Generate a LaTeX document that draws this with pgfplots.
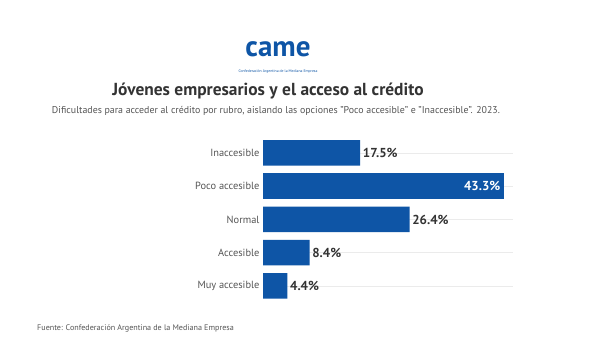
\documentclass[border=0pt]{standalone}
\usepackage{pgfplots}
\pgfplotsset{compat=1.18}
\usepackage{fontspec}
\setmainfont{PT Sans}
\definecolor{barblue}{RGB}{14,85,166}
\definecolor{titlec}{RGB}{51,51,51}
\definecolor{labc}{RGB}{85,85,85}
\begin{document}
\begin{tikzpicture}[x=1pt,y=1pt]
\fill[white] (0,0) rectangle (600,360);
\node[font=\fontsize{29}{30}\selectfont\bfseries, text=barblue, inner sep=0] at (278,311) {came};
\node[font=\fontsize{3.8}{4}\selectfont, text=barblue, inner sep=0] at (278,288) {Confederación Argentina de la Mediana Empresa};
\node[font=\fontsize{17.4}{20}\selectfont\bfseries, text=titlec, inner sep=0] at (268,269) {Jóvenes empresarios y el acceso al crédito};
\node[font=\fontsize{9.9}{12}\selectfont, text=labc, inner sep=0] at (276,249) {Dificultades para acceder al crédito por rubro, aislando las opciones "Poco accesible" e "Inaccesible". 2023.};
\node[font=\fontsize{8.1}{10}\selectfont, text=labc, anchor=west, inner sep=0] at (37,32) {Fuente: Confederación Argentina de la Mediana Empresa};
\begin{axis}[
  at={(263pt,57.4pt)}, anchor=south west, scale only axis,
  width=250pt, height=166.25pt,
  xbar, bar width=25.5pt, bar shift=0pt,
  xmin=0, xmax=45, ymin=-0.5, ymax=4.5,
  ytick={0,...,4},
  yticklabels={Muy accesible,Accesible,Normal,Poco accesible,Inaccesible},
  yticklabel style={font=\fontsize{10.4}{12}\selectfont, text=labc},
  major tick length=0pt,
  hide x axis,
  axis y line*=left,
  y axis line style={draw=none},
  ymajorgrids, grid style={black!8, line width=0.6pt},
  point meta=explicit symbolic,
  nodes near coords,
  nodes near coords style={font=\fontsize{13}{14}\selectfont\bfseries, text=titlec, inner sep=2.5pt, anchor=west},
]
\addplot[fill=barblue, draw=none] coordinates {
  (4.4,0) [4.4\%]
  (8.4,1) [8.4\%]
  (26.4,2) [26.4\%]
  (17.5,4) [17.5\%]
};
\addplot[fill=barblue, draw=none, nodes near coords style={text=white, anchor=east, inner sep=3pt}] coordinates {
  (43.3,3) [43.3\%]
};
\end{axis}
\end{tikzpicture}
\end{document}
